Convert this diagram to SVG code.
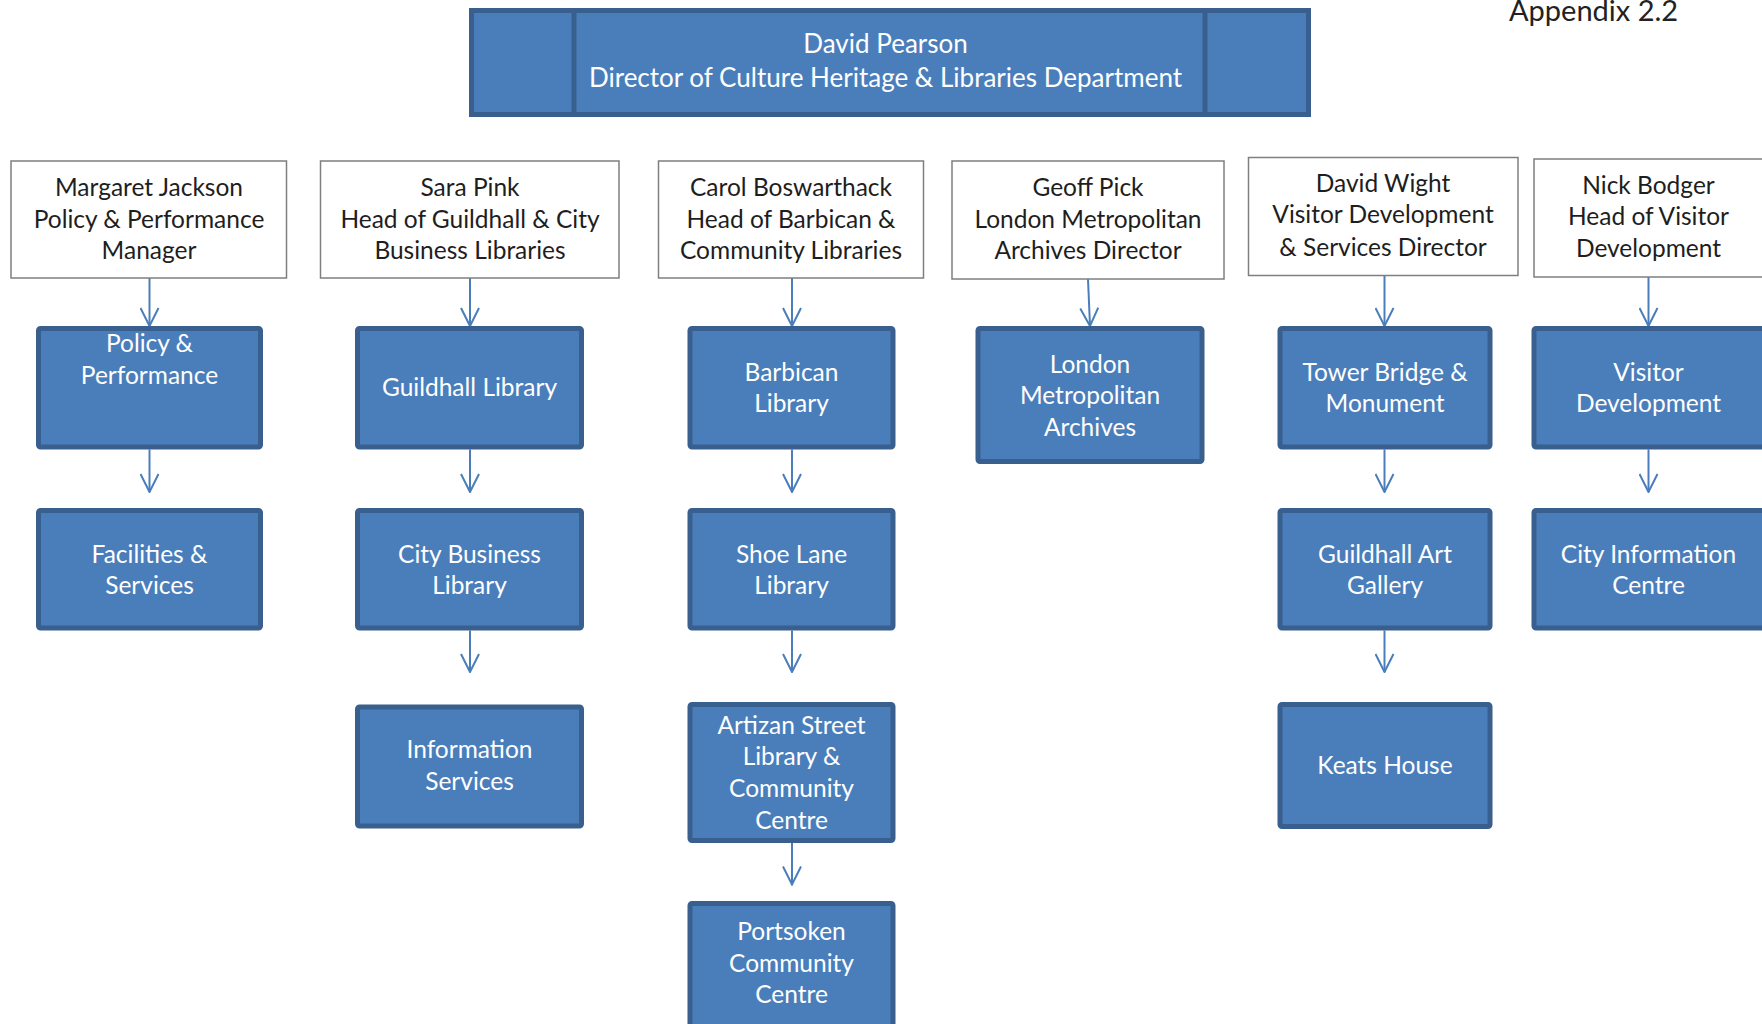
<svg xmlns="http://www.w3.org/2000/svg" width="1762" height="1024" viewBox="0 0 1762 1024">
<style>
.mgr{fill:#ffffff;stroke:#7f7f7f;stroke-width:1.5}
.unit{fill:#4a7ebb;stroke:#385f8e;stroke-width:5}
.t{font-family:Lato,"Open Sans","Liberation Sans",sans-serif;font-size:24.5px;text-anchor:middle}
.dk{fill:#1e1e1e}
.wt{fill:#ffffff}
.c{stroke:#4a7ebb;stroke-width:2;fill:none}
</style>
<defs>
<marker id="ah" viewBox="0 0 20 20" refX="19" refY="10" markerWidth="20" markerHeight="20" markerUnits="userSpaceOnUse" orient="auto">
<path d="M1,1 L19,10 L1,19" fill="none" stroke="#4a7ebb" stroke-width="2"/>
</marker>
</defs>
<rect width="1762" height="1024" fill="#ffffff"/>
<text x="1509" y="21" font-family="Lato,'Open Sans','Liberation Sans',sans-serif" font-size="29" fill="#222222">Appendix 2.2</text>

<g id="director">
<rect x="471.5" y="10.5" width="837" height="104" class="unit"/>
<line x1="574" y1="10.5" x2="574" y2="114.5" stroke="#385f8e" stroke-width="5"/>
<line x1="1205" y1="10.5" x2="1205" y2="114.5" stroke="#385f8e" stroke-width="5"/>
<text class="t wt" x="885.5" y="53" style="font-size:26px">David Pearson</text>
<text class="t wt" x="885.5" y="87" style="font-size:26px">Director of Culture Heritage &amp; Libraries Department</text>
</g>

<g id="connectors">
<line class="c" x1="149.5" y1="278" x2="149.5" y2="326" marker-end="url(#ah)"/>
<line class="c" x1="149.5" y1="449.5" x2="149.5" y2="492" marker-end="url(#ah)"/>
<line class="c" x1="470" y1="278" x2="470" y2="326" marker-end="url(#ah)"/>
<line class="c" x1="470" y1="449.5" x2="470" y2="492" marker-end="url(#ah)"/>
<line class="c" x1="470" y1="630.5" x2="470" y2="672" marker-end="url(#ah)"/>
<line class="c" x1="792" y1="278" x2="792" y2="326" marker-end="url(#ah)"/>
<line class="c" x1="792" y1="449.5" x2="792" y2="492" marker-end="url(#ah)"/>
<line class="c" x1="792" y1="630.5" x2="792" y2="672" marker-end="url(#ah)"/>
<line class="c" x1="792" y1="843" x2="792" y2="884.5" marker-end="url(#ah)"/>
<line class="c" x1="1088" y1="279" x2="1090" y2="326" marker-end="url(#ah)"/>
<line class="c" x1="1384.5" y1="275.5" x2="1384.5" y2="326" marker-end="url(#ah)"/>
<line class="c" x1="1384.5" y1="449.5" x2="1384.5" y2="492" marker-end="url(#ah)"/>
<line class="c" x1="1384.5" y1="630.5" x2="1384.5" y2="672" marker-end="url(#ah)"/>
<line class="c" x1="1648.5" y1="277" x2="1648.5" y2="326" marker-end="url(#ah)"/>
<line class="c" x1="1648.5" y1="449.5" x2="1648.5" y2="492" marker-end="url(#ah)"/>
</g>

<g id="mgr-jackson">
<rect class="mgr" x="11" y="161" width="275.5" height="117"/>
<text class="t dk" x="149" y="196">Margaret Jackson</text>
<text class="t dk" x="149" y="227.5">Policy &amp; Performance</text>
<text class="t dk" x="149" y="259">Manager</text>
</g>
<g id="mgr-pink">
<rect class="mgr" x="320.5" y="161" width="298.5" height="117"/>
<text class="t dk" x="470" y="196">Sara Pink</text>
<text class="t dk" x="470" y="227.5">Head of Guildhall &amp; City</text>
<text class="t dk" x="470" y="259">Business Libraries</text>
</g>
<g id="mgr-boswarthack">
<rect class="mgr" x="658.5" y="161" width="265" height="117"/>
<text class="t dk" x="791" y="196">Carol Boswarthack</text>
<text class="t dk" x="791" y="227.5">Head of Barbican &amp;</text>
<text class="t dk" x="791" y="259">Community Libraries</text>
</g>
<g id="mgr-pick">
<rect class="mgr" x="952" y="161" width="272" height="118"/>
<text class="t dk" x="1088" y="196">Geoff Pick</text>
<text class="t dk" x="1088" y="227.5">London Metropolitan</text>
<text class="t dk" x="1088" y="259">Archives Director</text>
</g>
<g id="mgr-wight">
<rect class="mgr" x="1248.5" y="157.5" width="269.5" height="118"/>
<text class="t dk" x="1383" y="191.5">David Wight</text>
<text class="t dk" x="1383" y="223">Visitor Development</text>
<text class="t dk" x="1383" y="255.5">&amp; Services Director</text>
</g>
<g id="mgr-bodger">
<rect class="mgr" x="1534" y="159" width="240" height="118"/>
<text class="t dk" x="1648.5" y="193.5">Nick Bodger</text>
<text class="t dk" x="1648.5" y="225">Head of Visitor</text>
<text class="t dk" x="1648.5" y="256.5">Development</text>
</g>

<g id="policy-performance">
<rect class="unit" x="38.5" y="328.5" width="222" height="118.5" rx="2"/>
<text class="t wt" x="149.5" y="352">Policy &amp;</text>
<text class="t wt" x="149.5" y="383.5">Performance</text>
</g>
<g id="facilities-services">
<rect class="unit" x="38.5" y="510.5" width="222" height="117.5" rx="2"/>
<text class="t wt" x="149.5" y="562.5">Facilities &amp;</text>
<text class="t wt" x="149.5" y="594">Services</text>
</g>

<g id="guildhall-library">
<rect class="unit" x="357.5" y="328.5" width="224" height="118.5" rx="2"/>
<text class="t wt" x="469.5" y="396">Guildhall Library</text>
</g>
<g id="city-business-library">
<rect class="unit" x="357.5" y="510.5" width="224" height="117.5" rx="2"/>
<text class="t wt" x="469.5" y="562.5">City Business</text>
<text class="t wt" x="469.5" y="594">Library</text>
</g>
<g id="information-services">
<rect class="unit" x="357.5" y="707" width="224" height="119" rx="2"/>
<text class="t wt" x="469.5" y="758">Information</text>
<text class="t wt" x="469.5" y="789.5">Services</text>
</g>

<g id="barbican-library">
<rect class="unit" x="690" y="328.5" width="203" height="118.5" rx="2"/>
<text class="t wt" x="791.5" y="380.5">Barbican</text>
<text class="t wt" x="791.5" y="412">Library</text>
</g>
<g id="shoe-lane-library">
<rect class="unit" x="690" y="510.5" width="203" height="117.5" rx="2"/>
<text class="t wt" x="791.5" y="562.5">Shoe Lane</text>
<text class="t wt" x="791.5" y="594">Library</text>
</g>
<g id="artizan-street">
<rect class="unit" x="690" y="704.5" width="203" height="136" rx="2"/>
<text class="t wt" x="791.5" y="733.5">Artizan Street</text>
<text class="t wt" x="791.5" y="765">Library &amp;</text>
<text class="t wt" x="791.5" y="797">Community</text>
<text class="t wt" x="791.5" y="828.5">Centre</text>
</g>
<g id="portsoken">
<rect class="unit" x="690" y="903.5" width="203" height="130" rx="2"/>
<text class="t wt" x="791.5" y="940">Portsoken</text>
<text class="t wt" x="791.5" y="971.5">Community</text>
<text class="t wt" x="791.5" y="1003">Centre</text>
</g>

<g id="lma">
<rect class="unit" x="978" y="328.5" width="224" height="133" rx="2"/>
<text class="t wt" x="1090" y="372.5">London</text>
<text class="t wt" x="1090" y="404">Metropolitan</text>
<text class="t wt" x="1090" y="436">Archives</text>
</g>

<g id="tower-bridge">
<rect class="unit" x="1280" y="328.5" width="210" height="118.5" rx="2"/>
<text class="t wt" x="1385" y="380.5">Tower Bridge &amp;</text>
<text class="t wt" x="1385" y="412">Monument</text>
</g>
<g id="guildhall-art-gallery">
<rect class="unit" x="1280" y="510.5" width="210" height="117.5" rx="2"/>
<text class="t wt" x="1385" y="562.5">Guildhall Art</text>
<text class="t wt" x="1385" y="594">Gallery</text>
</g>
<g id="keats-house">
<rect class="unit" x="1280" y="704.5" width="210" height="122" rx="2"/>
<text class="t wt" x="1385" y="773.5">Keats House</text>
</g>

<g id="visitor-development">
<rect class="unit" x="1534" y="328.5" width="240" height="118.5" rx="2"/>
<text class="t wt" x="1648.5" y="380.5">Visitor</text>
<text class="t wt" x="1648.5" y="412">Development</text>
</g>
<g id="city-information-centre">
<rect class="unit" x="1534" y="510.5" width="240" height="117.5" rx="2"/>
<text class="t wt" x="1648.5" y="562.5">City Information</text>
<text class="t wt" x="1648.5" y="594">Centre</text>
</g>
</svg>
